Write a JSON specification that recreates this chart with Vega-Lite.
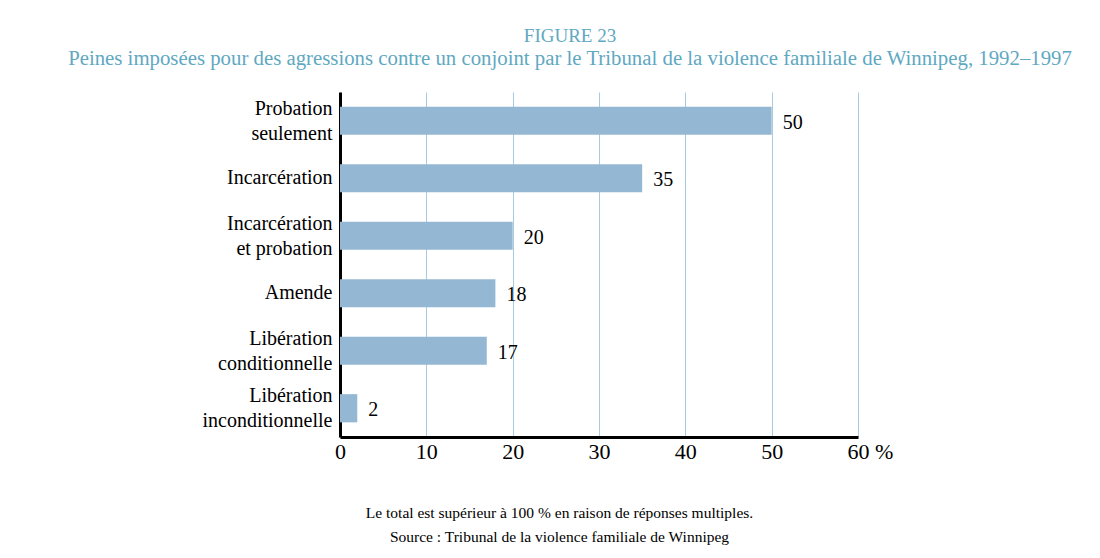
{
  "$schema": "https://vega.github.io/schema/vega-lite/v6.json",
  "width": 518,
  "height": 345,
  "autosize": "none",
  "padding": {"left": 340, "top": 92, "right": 242, "bottom": 121},
  "background": "white",
  "title": {
    "text": "FIGURE 23",
    "subtitle": "Peines imposées pour des agressions contre un conjoint par le Tribunal de la violence familiale de Winnipeg, 1992–1997",
    "anchor": "middle",
    "frame": "group",
    "dx": -29,
    "offset": 23,
    "font": "Liberation Serif",
    "fontSize": 19,
    "fontWeight": "normal",
    "color": "#5fa8c2",
    "subtitleFont": "Liberation Serif",
    "subtitleFontSize": 20.8,
    "subtitleColor": "#5fa8c2",
    "subtitlePadding": 3
  },
  "data": {
    "values": [
      {"category": "Probation|seulement", "value": 50},
      {"category": "Incarcération", "value": 35},
      {"category": "Incarcération|et probation", "value": 20},
      {"category": "Amende", "value": 18},
      {"category": "Libération|conditionnelle", "value": 17},
      {"category": "Libération|inconditionnelle", "value": 2}
    ]
  },
  "encoding": {
    "y": {
      "field": "category",
      "type": "nominal",
      "sort": null,
      "scale": {"paddingInner": 0.51, "paddingOuter": 0.255},
      "axis": {
        "title": null,
        "labelExpr": "split(datum.value, '|')",
        "labelFont": "Liberation Serif",
        "labelFontSize": 20,
        "labelColor": "black",
        "labelLineHeight": 25,
        "labelPadding": 8,
        "labelOffset": {"condition": {"test": "indexof(datum.value, '|') >= 0", "value": -12}, "value": 0},
        "ticks": false,
        "domainColor": "black",
        "domainWidth": 3
      }
    },
    "x": {
      "field": "value",
      "type": "quantitative",
      "scale": {"domain": [0, 60], "nice": false},
      "axis": {
        "values": [0, 10, 20, 30, 40, 50, 60],
        "labelExpr": "datum.value == 60 ? '60 %' : datum.label",
        "labelAlign": {"condition": {"test": "datum.value == 60", "value": "left"}, "value": "center"},
        "labelOffset": {"condition": {"test": "datum.value == 60", "value": -11}, "value": 0},
        "labelFont": "Liberation Serif",
        "labelFontSize": 22,
        "labelColor": "black",
        "labelPadding": 4,
        "ticks": false,
        "domainColor": "black",
        "domainWidth": 3,
        "grid": true,
        "gridColor": "#a9cbe0",
        "gridWidth": 1,
        "title": ["Le total est supérieur à 100 % en raison de réponses multiples.", "Source : Tribunal de la violence familiale de Winnipeg"],
        "titleFont": "Liberation Serif",
        "titleFontSize": 15.5,
        "titleFontWeight": "normal",
        "titleColor": "black",
        "titleLineHeight": 24,
        "titleX": 219,
        "titleAnchor": "middle",
        "titlePadding": 43
      }
    }
  },
  "layer": [
    {"mark": {"type": "bar", "color": "#94b8d3"}},
    {
      "mark": {"type": "text", "align": "left", "dx": 11, "dy": 2, "font": "Liberation Serif", "fontSize": 20, "color": "black"},
      "encoding": {"text": {"field": "value", "type": "quantitative"}}
    }
  ],
  "config": {
    "view": {"stroke": null}
  }
}
